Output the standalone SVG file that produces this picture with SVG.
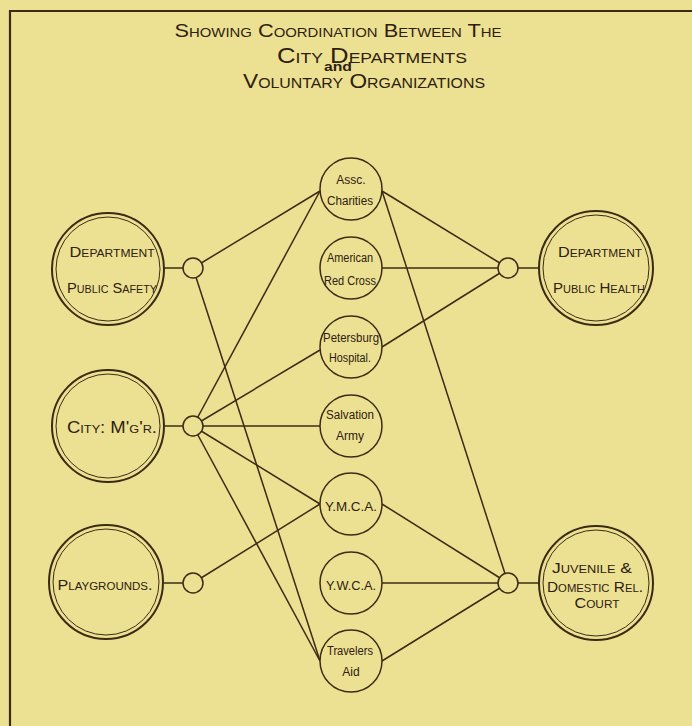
<svg xmlns="http://www.w3.org/2000/svg" width="692" height="726" viewBox="0 0 692 726">
<style>
.ln{stroke:#3b2b14;stroke-width:1.5;fill:none}
.big{fill:none;stroke:#3b2b14}
.mid{fill:#ece192;stroke:#3b2b14;stroke-width:1.5}
.jn{fill:#ece192;stroke:#3b2b14;stroke-width:1.5}
.sc{font-family:"Liberation Sans",Arial,sans-serif;font-variant:small-caps;fill:#2e2010;text-anchor:middle}
.hw{font-family:"Liberation Sans",Arial,sans-serif;fill:#2e2010;text-anchor:middle;font-size:12px}
</style>
<rect width="692" height="726" fill="#ece192"/>
<path d="M10 726 V11 H692" stroke="#3b2b14" stroke-width="2.2" fill="none"/>
<g id="title">
<text class="sc" x="338" y="37" font-size="19" textLength="327" lengthAdjust="spacingAndGlyphs">Showing Coordination Between The</text>
<text class="sc" x="372" y="63" font-size="22" textLength="190" lengthAdjust="spacingAndGlyphs">City Departments</text>
<text class="hw" x="338" y="71" font-size="8.5" font-weight="bold" textLength="28" lengthAdjust="spacingAndGlyphs">and</text>
<text class="sc" x="364" y="88" font-size="20" textLength="242" lengthAdjust="spacingAndGlyphs">Voluntary Organizations</text>
</g>
<g id="connectors">
<line class="ln" x1="164" y1="268" x2="183" y2="268"/>
<line class="ln" x1="164" y1="426" x2="183" y2="426"/>
<line class="ln" x1="164" y1="583" x2="183" y2="583"/>
<line class="ln" x1="518" y1="268" x2="539" y2="268"/>
<line class="ln" x1="518" y1="583" x2="539" y2="583"/>
<line class="ln" x1="193" y1="268" x2="320" y2="191"/>
<line class="ln" x1="193" y1="268" x2="320" y2="661"/>
<line class="ln" x1="193" y1="426" x2="320" y2="191"/>
<line class="ln" x1="193" y1="426" x2="320" y2="350"/>
<line class="ln" x1="193" y1="426" x2="320" y2="426"/>
<line class="ln" x1="193" y1="426" x2="320" y2="504"/>
<line class="ln" x1="193" y1="426" x2="320" y2="661"/>
<line class="ln" x1="193" y1="583" x2="320" y2="504"/>
<line class="ln" x1="382" y1="191" x2="508" y2="268"/>
<line class="ln" x1="382" y1="268" x2="508" y2="268"/>
<line class="ln" x1="382" y1="347" x2="508" y2="268"/>
<line class="ln" x1="382" y1="191" x2="508" y2="583"/>
<line class="ln" x1="382" y1="504" x2="508" y2="583"/>
<line class="ln" x1="382" y1="583" x2="508" y2="583"/>
<line class="ln" x1="382" y1="661" x2="508" y2="583"/>
<circle class="jn" cx="193" cy="268" r="10"/>
<circle class="jn" cx="193" cy="426" r="10"/>
<circle class="jn" cx="193" cy="583" r="10"/>
<circle class="jn" cx="508" cy="268" r="10"/>
<circle class="jn" cx="508" cy="583" r="10"/>
</g>
<g id="dept-public-safety">
<circle class="big" cx="108" cy="269" r="56" stroke-width="2"/>
<circle class="big" cx="108" cy="269" r="52" stroke-width="1"/>
<text class="sc" x="112" y="257" font-size="15" textLength="85" lengthAdjust="spacingAndGlyphs">Department</text>
<text class="sc" x="112" y="293" font-size="15" textLength="90" lengthAdjust="spacingAndGlyphs">Public Safety</text>
</g>
<g id="city-mgr">
<circle class="big" cx="108" cy="426" r="56" stroke-width="2"/>
<circle class="big" cx="108" cy="426" r="52" stroke-width="1"/>
<text class="sc" x="112" y="433" font-size="16" textLength="90" lengthAdjust="spacingAndGlyphs">City: M'g'r.</text>
</g>
<g id="playgrounds">
<circle class="big" cx="106" cy="582" r="57" stroke-width="2"/>
<circle class="big" cx="106" cy="582" r="53" stroke-width="1"/>
<text class="sc" x="105" y="590" font-size="14" textLength="95" lengthAdjust="spacingAndGlyphs">Playgrounds.</text>
</g>
<g id="assc-charities">
<circle class="mid" cx="351" cy="189" r="31"/>
<text class="hw" x="351" y="184">Assc.</text>
<text class="hw" x="350" y="205" textLength="46" lengthAdjust="spacingAndGlyphs">Charities</text>
</g>
<g id="american-red-cross">
<circle class="mid" cx="351" cy="268" r="31"/>
<text class="hw" x="350" y="262" textLength="46" lengthAdjust="spacingAndGlyphs">American</text>
<text class="hw" x="350" y="285" textLength="52" lengthAdjust="spacingAndGlyphs">Red Cross</text>
</g>
<g id="petersburg-hospital">
<circle class="mid" cx="351" cy="347" r="31"/>
<text class="hw" x="351" y="342" textLength="56" lengthAdjust="spacingAndGlyphs">Petersburg</text>
<text class="hw" x="350" y="362" textLength="42" lengthAdjust="spacingAndGlyphs">Hospital.</text>
</g>
<g id="salvation-army">
<circle class="mid" cx="351" cy="426" r="31"/>
<text class="hw" x="350" y="419" textLength="48" lengthAdjust="spacingAndGlyphs">Salvation</text>
<text class="hw" x="350" y="440">Army</text>
</g>
<g id="ymca">
<circle class="mid" cx="351" cy="504" r="31"/>
<text class="hw" x="351" y="511" font-size="12.5" textLength="52" lengthAdjust="spacingAndGlyphs">Y.M.C.A.</text>
</g>
<g id="ywca">
<circle class="mid" cx="351" cy="583" r="31"/>
<text class="hw" x="351" y="590" font-size="12.5" textLength="50" lengthAdjust="spacingAndGlyphs">Y.W.C.A.</text>
</g>
<g id="travelers-aid">
<circle class="mid" cx="351" cy="661" r="31"/>
<text class="hw" x="350" y="655" textLength="46" lengthAdjust="spacingAndGlyphs">Travelers</text>
<text class="hw" x="351" y="676">Aid</text>
</g>
<g id="dept-public-health">
<circle class="big" cx="596" cy="268" r="57" stroke-width="2"/>
<circle class="big" cx="596" cy="268" r="53" stroke-width="1"/>
<text class="sc" x="600" y="257" font-size="15" textLength="84" lengthAdjust="spacingAndGlyphs">Department</text>
<text class="sc" x="599" y="293" font-size="15" textLength="92" lengthAdjust="spacingAndGlyphs">Public Health</text>
</g>
<g id="juvenile-court">
<circle class="big" cx="596" cy="583" r="57" stroke-width="2"/>
<circle class="big" cx="596" cy="583" r="53" stroke-width="1"/>
<text class="sc" x="592" y="573" font-size="15" textLength="80" lengthAdjust="spacingAndGlyphs">Juvenile &amp;</text>
<text class="sc" x="595" y="592" font-size="15" textLength="96" lengthAdjust="spacingAndGlyphs">Domestic Rel.</text>
<text class="sc" x="597" y="608" font-size="15" textLength="45" lengthAdjust="spacingAndGlyphs">Court</text>
</g>
</svg>
